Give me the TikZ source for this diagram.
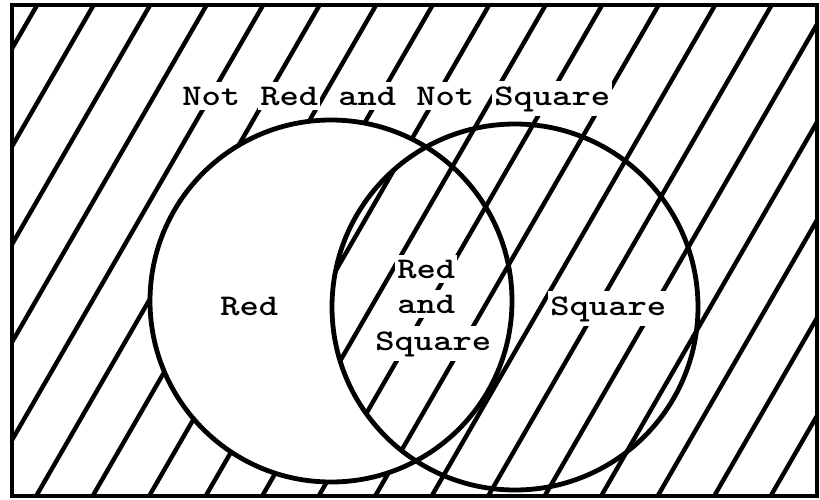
\documentclass[tikz,border=0pt]{standalone}
\usepackage{graphicx}
\usepackage{tikz}
\usetikzlibrary{positioning}

\newcommand{\widetext}[1]{\scalebox{1.225}[1]{#1}}

\begin{document}
\begin{tikzpicture}[x=0.5pt, y=-0.5pt,
		hatch/.style={line width=2.2pt},
		outline/.style={line width=2.4pt},
		word/.style={fill=white, inner xsep=1pt, inner ysep=2.5pt, font=\ttfamily\bfseries\fontsize{15}{18}\selectfont}]
	\useasboundingbox (0,0) rectangle (820,499);
	
	\coordinate (R) at (331,301); % centre of Red
	\coordinate (S) at (515,307); % centre of Square
	
	% hatching over the whole frame
	\begin{scope}
		\clip (12,5) rectangle (817,496);
		\foreach \c in {40,96.5,...,1114}
			\draw[hatch] ({\c+5.8},-10) -- ({\c-294.4},510);
	\end{scope}
	% Red only is left blank
	\fill[white] (R) circle (181);
	\begin{scope}
		\clip (R) circle (181);
		\clip (S) circle (183);
		\foreach \c in {40,96.5,...,1114}
			\draw[hatch] ({\c+5.8},-10) -- ({\c-294.4},510);
	\end{scope}
	
	\node[word, anchor=base west] (nr1) at (180,105) {\widetext{Not}};
	\node[word, base right=7.65pt of nr1] (nr2) {\widetext{Red}};
	\node[word, base right=7.65pt of nr2] (nr3) {\widetext{and}};
	\node[word, base right=7.65pt of nr3] (nr4) {\widetext{Not}};
	\node[word, base right=7.65pt of nr4] (nr5) {\widetext{Square}};
	
	\node[word, anchor=base west] (red) at (218,315) {\widetext{Red}};
	\node[word, anchor=base west] (both1) at (395,278) {\widetext{Red}};
	\node[word, anchor=base west] (both2) at (395,313) {\widetext{and}};
	\node[word, anchor=base west] (both3) at (373,350) {\widetext{Square}};
	\node[word, anchor=base west] (square) at (548,315) {\widetext{Square}};
	
	\draw[outline] (12,5) rectangle (817,496);
	\draw[outline] (R) circle (181);
	\draw[outline] (S) circle (183);
\end{tikzpicture}
\end{document}
